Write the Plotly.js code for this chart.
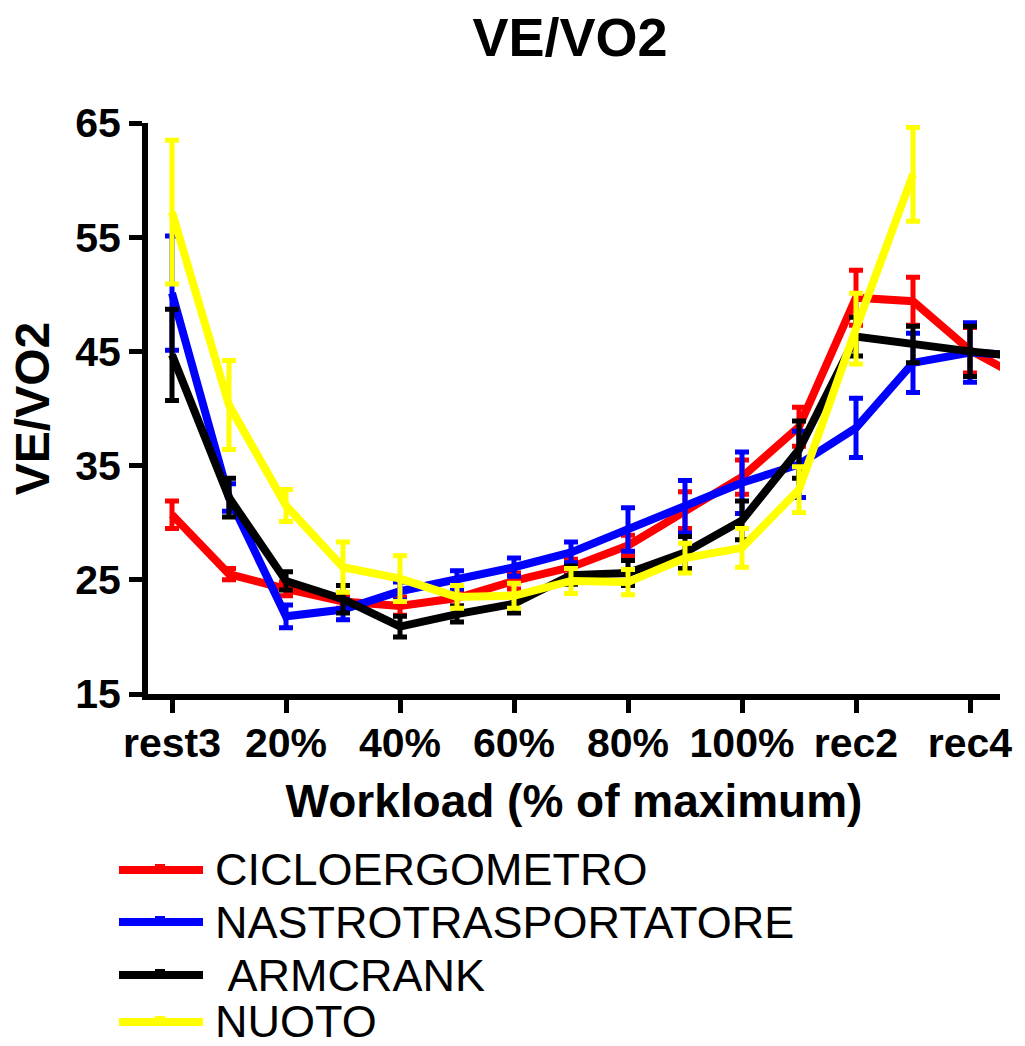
<!DOCTYPE html>
<html>
<head>
<meta charset="utf-8">
<script src="https://cdn.plot.ly/plotly-3.0.1.min.js"></script>
<style>
  html, body { margin: 0; padding: 0; background: #fff; }
  #chart { width: 1025px; height: 1046px; }
</style>
</head>
<body>
<div id="chart"></div>
<script>
// Workload stages (rec5 lies just past the right end of the axis)
const stages = ['rest3', '10%', '20%', '30%', '40%', '50%', '60%', '70%',
                '80%', '90%', '100%', 'rec1', 'rec2', 'rec3', 'rec4', 'rec5'];
const shownTicks = ['rest3', '20%', '40%', '60%', '80%', '100%', 'rec2', 'rec4'];

// VE/VO2 means and SEM per protocol
const cicloMean  = [30.7, 25.5, 24.2, 23.1, 22.7, 23.4, 24.9, 26.1, 28.0, 31.1, 34.0, 38.4, 49.7, 49.4, 45.1, 42.4];
const cicloErr   = [1.2, 0.5, 0.6, 0.6, 0.8, 0.7, 0.7, 0.7, 0.9, 1.6, 1.5, 1.7, 2.4, 2.1, 2.0, 0];
const nastroMean = [50.1, 32.2, 21.8, 22.4, 24.0, 25.0, 26.1, 27.4, 29.4, 31.4, 33.5, 35.1, 38.3, 44.0, 44.9, 44.6];
const nastroErr  = [5.0, 1.2, 1.0, 0.9, 0.8, 0.8, 0.8, 0.9, 1.9, 2.3, 2.7, 2.9, 2.6, 2.6, 2.6, 0];
const armMean    = [44.7, 32.2, 24.9, 23.3, 20.9, 22.0, 22.9, 25.4, 25.6, 27.4, 30.2, 36.4, 46.3, 45.6, 45.0, 44.5];
const armErr     = [4.0, 1.7, 0.8, 1.2, 0.9, 0.7, 0.8, 0.8, 1.1, 1.4, 1.7, 2.5, 1.7, 1.6, 2.2, 0];
const nuotoMean  = [57.2, 40.3, 31.5, 26.1, 25.1, 23.5, 23.6, 24.9, 24.8, 26.9, 27.8, 32.9, 47.0, 60.5, null, null];
const nuotoErr   = [6.3, 3.9, 1.4, 2.2, 2.0, 1.0, 1.1, 1.1, 1.1, 1.3, 1.7, 2.0, 3.1, 4.1, null, null];

const seriesNames  = ['CICLOERGOMETRO', 'NASTROTRASPORTATORE', '\u00a0ARMCRANK', 'NUOTO'];
const seriesColors = ['#ff0000', '#0000ff', '#000000', '#ffff00'];
const seriesMeans  = [cicloMean, nastroMean, armMean, nuotoMean];
const seriesErrs   = [cicloErr, nastroErr, armErr, nuotoErr];

const FONT = 'Arial, "Liberation Sans", sans-serif';

// Plot box in pixels
const W = 1025, H = 1046;
const L = 148, R = 1000, T = 123, B = 694;

const traces = seriesNames.map((name, k) => ({
  type: 'scatter',
  mode: 'lines',
  name: name,
  x: stages,
  y: seriesMeans[k],
  connectgaps: false,
  line: { color: seriesColors[k], width: 8 },
  error_y: {
    type: 'data',
    array: seriesErrs[k],
    visible: true,
    color: seriesColors[k],
    thickness: 5,
    width: 7
  },
  showlegend: false,
  hoverinfo: 'skip'
}));

// Hand-drawn key below the chart
const toPX = px => (px - L) / (R - L);
const toPY = py => (B - py) / (B - T);
const keyRows = [870, 922, 975, 1022];
const shapes = [];
const annotations = [];
seriesNames.forEach((name, k) => {
  const y = keyRows[k];
  shapes.push({
    type: 'line', xref: 'paper', yref: 'paper',
    x0: toPX(119), x1: toPX(203), y0: toPY(y), y1: toPY(y),
    line: { color: seriesColors[k], width: 8 }
  });
  shapes.push({
    type: 'rect', xref: 'paper', yref: 'paper',
    x0: toPX(155), x1: toPX(165), y0: toPY(y - 3), y1: toPY(y - 6),
    line: { width: 0 }, fillcolor: seriesColors[k]
  });
  annotations.push({
    xref: 'paper', yref: 'paper',
    x: toPX(213), y: toPY(y),
    xanchor: 'left', yanchor: 'middle',
    text: name, showarrow: false,
    font: { family: FONT, size: 45, color: '#000' }
  });
});

const layout = {
  width: W, height: H,
  margin: { l: L, r: W - R, t: T, b: H - B, pad: 0 },
  paper_bgcolor: '#fff',
  plot_bgcolor: '#fff',
  title: {
    text: 'VE/VO2',
    font: { family: FONT, size: 54, weight: 'bold', color: '#000' },
    x: 0.5 + ((L + R) / 2 - W / 2 - 4) / W,
    xanchor: 'center',
    y: 1 - 37 / H, yanchor: 'middle'
  },
  xaxis: {
    type: 'category',
    range: [-(172 - L) / 57, -(172 - L) / 57 + (R - L) / 57],
    tickmode: 'array',
    tickvals: shownTicks,
    ticktext: shownTicks,
    ticks: 'outside', ticklen: 13, tickwidth: 5, tickcolor: '#000',
    ticklabelstandoff: -5,
    showline: true, linewidth: 6, linecolor: '#000',
    showgrid: false, zeroline: false,
    tickfont: { family: FONT, size: 41, weight: 'bold', color: '#000' },
    title: {
      text: 'Workload (% of maximum)',
      font: { family: FONT, size: 46, weight: 'bold', color: '#000' },
      standoff: 22
    },
    automargin: false,
    fixedrange: true
  },
  yaxis: {
    range: [15, 65],
    tickmode: 'array',
    tickvals: [15, 25, 35, 45, 55, 65],
    ticks: 'outside', ticklen: 13, tickwidth: 5, tickcolor: '#000',
    showline: true, linewidth: 6, linecolor: '#000',
    showgrid: false, zeroline: false,
    tickfont: { family: FONT, size: 41, weight: 'bold', color: '#000' },
    title: {
      text: 'VE/VO2',
      font: { family: FONT, size: 48, weight: 'bold', color: '#000' },
      standoff: 12
    },
    automargin: false,
    fixedrange: true
  },
  shapes: shapes,
  annotations: annotations,
  showlegend: false
};

Plotly.newPlot('chart', traces, layout, { displayModeBar: false, staticPlot: true });
</script>
</body>
</html>
